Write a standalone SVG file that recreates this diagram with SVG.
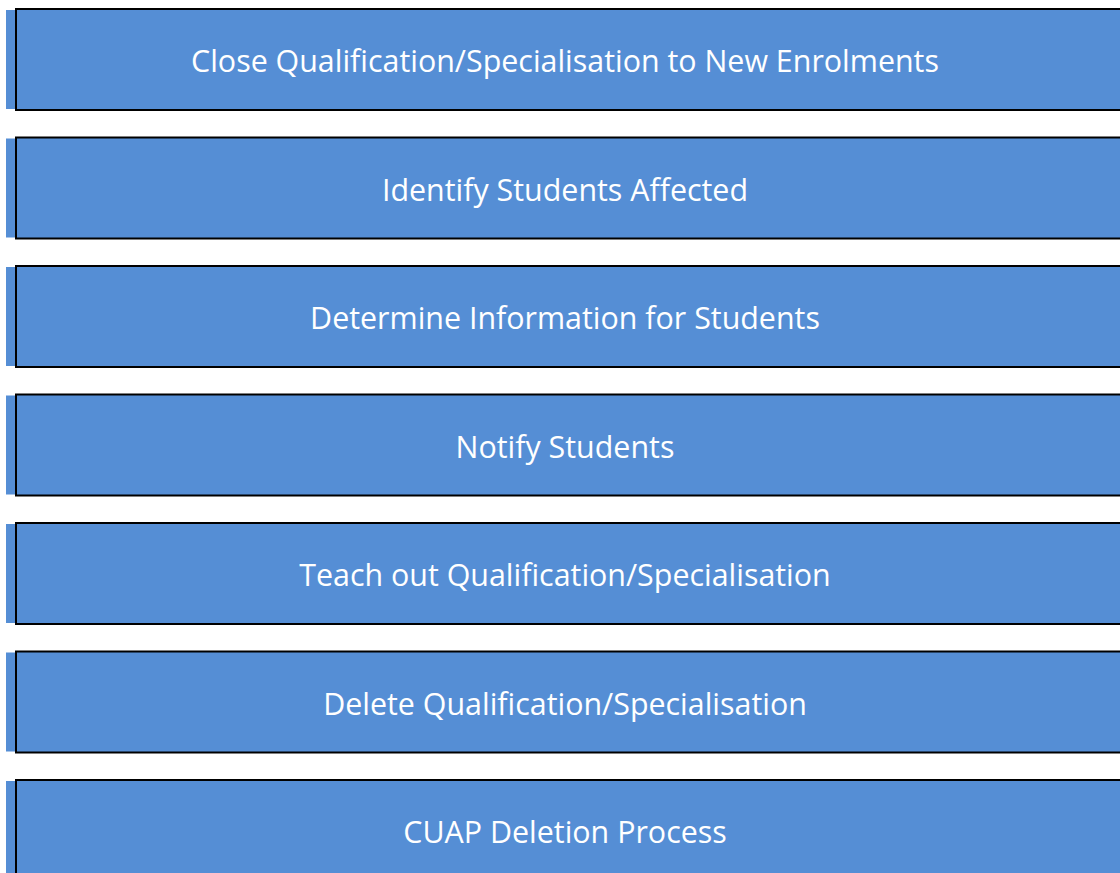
<svg xmlns="http://www.w3.org/2000/svg" width="1120" height="873" viewBox="0 0 1120 873">
<style>
.bg{fill:#558ed5}
.box{fill:#558ed5;stroke:#000;stroke-width:2}
.t{font-family:"Open Sans","Noto Sans",sans-serif;font-size:30.4px;fill:#fff;text-anchor:middle}
</style>
<rect width="1120" height="873" fill="#fff"/>
<g id="connectors"/>
<g id="n1"><rect class="bg" x="6" y="10" width="1114" height="99"/><rect class="box" x="16" y="9" width="1110" height="101"/><text class="t" x="565" y="72">Close Qualification/Specialisation to New Enrolments</text></g>
<g id="n2"><rect class="bg" x="6" y="138.5" width="1114" height="99"/><rect class="box" x="16" y="137.5" width="1110" height="101"/><text class="t" x="565" y="200.5">Identify Students Affected</text></g>
<g id="n3"><rect class="bg" x="6" y="267" width="1114" height="99"/><rect class="box" x="16" y="266" width="1110" height="101"/><text class="t" x="565" y="329">Determine Information for Students</text></g>
<g id="n4"><rect class="bg" x="6" y="395.5" width="1114" height="99"/><rect class="box" x="16" y="394.5" width="1110" height="101"/><text class="t" x="565" y="457.5">Notify Students</text></g>
<g id="n5"><rect class="bg" x="6" y="524" width="1114" height="99"/><rect class="box" x="16" y="523" width="1110" height="101"/><text class="t" x="565" y="586">Teach out Qualification/Specialisation</text></g>
<g id="n6"><rect class="bg" x="6" y="652.5" width="1114" height="99"/><rect class="box" x="16" y="651.5" width="1110" height="101"/><text class="t" x="565" y="714.5">Delete Qualification/Specialisation</text></g>
<g id="n7"><rect class="bg" x="6" y="781" width="1114" height="99"/><rect class="box" x="16" y="780" width="1110" height="101"/><text class="t" x="565" y="843">CUAP Deletion Process</text></g>
</svg>
